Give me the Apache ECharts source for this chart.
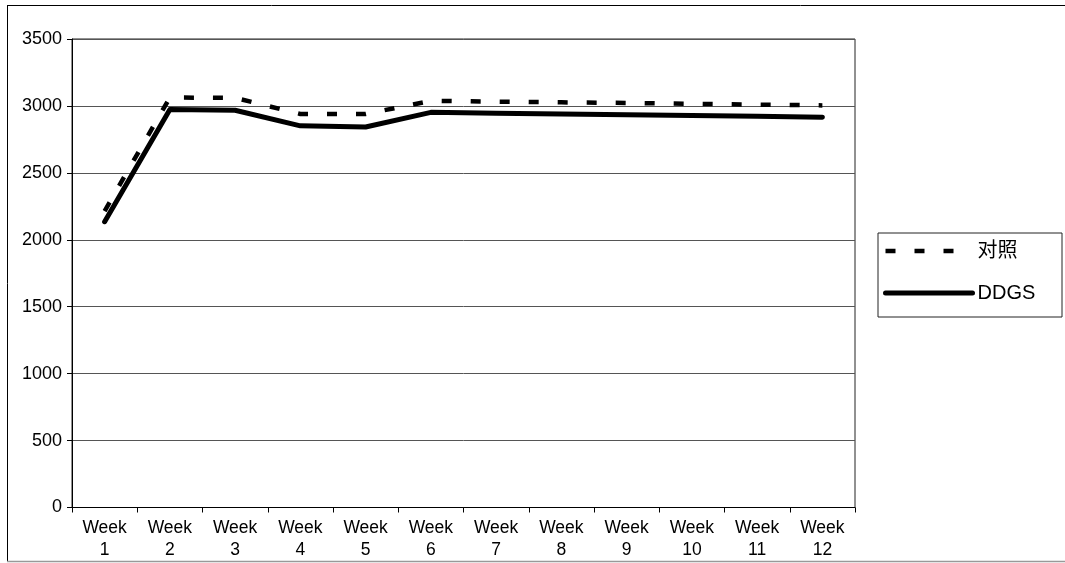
<!DOCTYPE html>
<html>
<head>
<meta charset="utf-8">
<style>
  html, body { margin: 0; padding: 0; background: #fff; }
  #chart { width: 1065px; height: 563px; }
</style>
<script src="https://cdn.jsdelivr.net/npm/echarts@6/dist/echarts.min.js"></script>
</head>
<body>
<div id="chart"></div>
<script>
// Weekly values for the two feeding groups
const weeks = ['Week 1', 'Week 2', 'Week 3', 'Week 4', 'Week 5', 'Week 6',
               'Week 7', 'Week 8', 'Week 9', 'Week 10', 'Week 11', 'Week 12'];
const controlName = '对照';
const ddgsName = 'DDGS';
const controlValues = [2215, 3063, 3060, 2940, 2940, 3038, 3032, 3027, 3022, 3016, 3010, 3004];
const ddgsValues = [2135, 2973, 2968, 2851, 2843, 2952, 2946, 2940, 2934, 2928, 2922, 2916];
const yTicks = { min: 0, max: 3500, interval: 500 };

const FONT = '"Liberation Sans", Arial, "Noto Sans CJK SC", sans-serif';

const chart = echarts.init(document.getElementById('chart'), null, { renderer: 'canvas' });

chart.setOption({
  backgroundColor: '#fff',
  animation: false,
  grid: {
    left: 72, right: 210, top: 39, bottom: 55.5,
    show: true, borderColor: '#222', borderWidth: 1, backgroundColor: 'transparent'
  },
  xAxis: {
    type: 'category',
    data: weeks,
    boundaryGap: true,
    axisLine: { lineStyle: { color: '#000', width: 1 } },
    axisTick: { show: true, length: 5, inside: false, lineStyle: { color: '#000' }, alignWithLabel: false },
    axisLabel: {
      color: '#000', fontFamily: FONT, fontSize: 17.5, lineHeight: 22, margin: 10,
      interval: 0,
      formatter: v => v.replace(' ', '\n')
    },
    splitLine: { show: false }
  },
  yAxis: {
    type: 'value',
    min: yTicks.min, max: yTicks.max, interval: yTicks.interval,
    axisLine: { show: true, lineStyle: { color: '#000', width: 1 } },
    axisTick: { show: true, length: 5, lineStyle: { color: '#000' } },
    axisLabel: { color: '#000', fontFamily: FONT, fontSize: 18, margin: 10, formatter: v => String(v) },
    splitLine: { show: true, lineStyle: { color: '#555', width: 1 } }
  },
  legend: {
    orient: 'vertical',
    left: 883, top: 241,
    itemWidth: 87, itemHeight: 20, itemGap: 22,
    padding: 0,
    textStyle: { color: '#000', fontFamily: FONT, fontSize: 20 },
    itemStyle: { color: 'rgba(0,0,0,0)', borderWidth: 0, opacity: 0 },
    data: [
      { name: controlName, lineStyle: { width: 4.5 } },
      { name: ddgsName, lineStyle: { width: 5 } }
    ]
  },
  graphic: [
    // legend frame
    { type: 'rect', left: 875.5, top: 230.5, shape: { width: 184, height: 84 },
      style: { fill: 'none', stroke: '#222', lineWidth: 1 }, silent: true, z: 0 },
    // outer frame
    { type: 'line', shape: { x1: 7, y1: 5.5, x2: 1065, y2: 5.5 }, style: { stroke: '#000', lineWidth: 1 }, silent: true },
    { type: 'line', shape: { x1: 7.5, y1: 5, x2: 7.5, y2: 562 }, style: { stroke: '#000', lineWidth: 1 }, silent: true },
    { type: 'line', shape: { x1: 7, y1: 561.5, x2: 1065, y2: 561.5 }, style: { stroke: '#999', lineWidth: 1.5 }, silent: true }
  ],
  series: [
    {
      name: controlName,
      type: 'line',
      data: controlValues,
      symbol: 'none',
      itemStyle: { color: '#000' },
      lineStyle: { color: '#000', width: 4.5, type: [10, 19], cap: 'butt' },
      z: 3
    },
    {
      name: ddgsName,
      type: 'line',
      data: ddgsValues,
      symbol: 'none',
      itemStyle: { color: '#000' },
      lineStyle: { color: '#000', width: 5, type: 'solid', cap: 'round', join: 'round' },
      z: 4
    }
  ]
});
</script>
</body>
</html>
